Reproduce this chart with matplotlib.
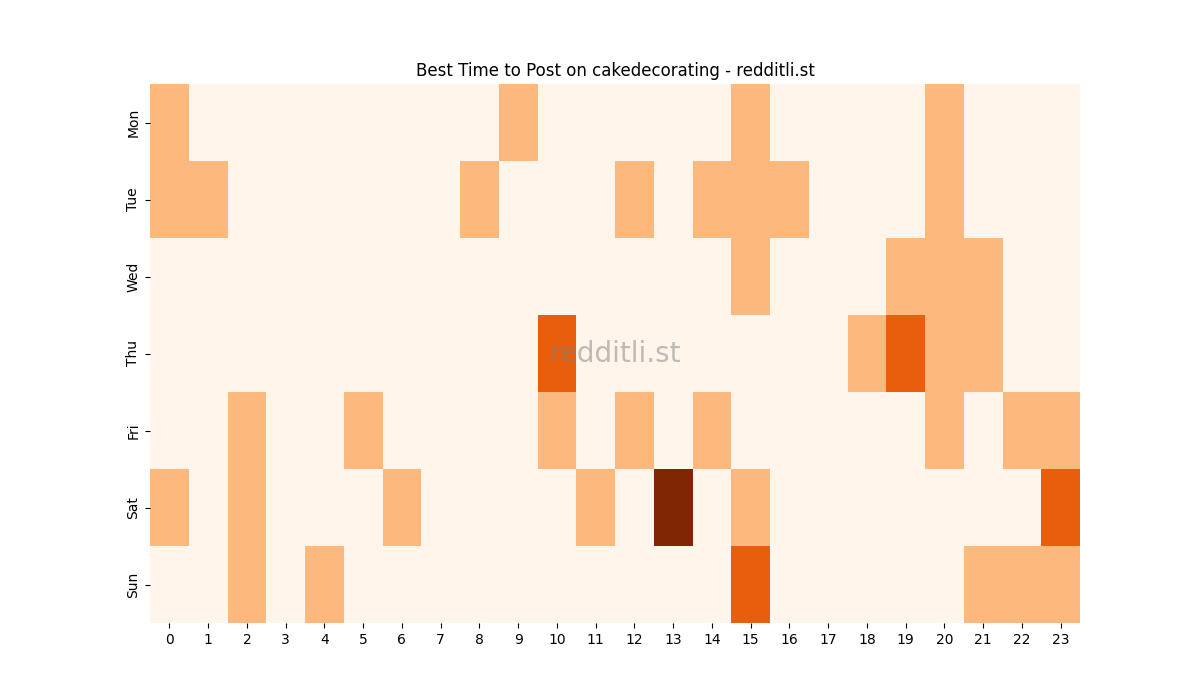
import matplotlib
matplotlib.use("Agg")
import matplotlib.pyplot as plt
import seaborn as sns
import numpy as np

days = ["Mon", "Tue", "Wed", "Thu", "Fri", "Sat", "Sun"]
hours = list(range(24))

# activity level per hour, one row per day (0 = none, 3 = best)
mon = [1, 0, 0, 0, 0, 0, 0, 0, 0, 1, 0, 0, 0, 0, 0, 1, 0, 0, 0, 0, 1, 0, 0, 0]
tue = [1, 1, 0, 0, 0, 0, 0, 0, 1, 0, 0, 0, 1, 0, 1, 1, 1, 0, 0, 0, 1, 0, 0, 0]
wed = [0, 0, 0, 0, 0, 0, 0, 0, 0, 0, 0, 0, 0, 0, 0, 1, 0, 0, 0, 1, 1, 1, 0, 0]
thu = [0, 0, 0, 0, 0, 0, 0, 0, 0, 0, 2, 0, 0, 0, 0, 0, 0, 0, 1, 2, 1, 1, 0, 0]
fri = [0, 0, 1, 0, 0, 1, 0, 0, 0, 0, 1, 0, 1, 0, 1, 0, 0, 0, 0, 0, 1, 0, 1, 1]
sat = [1, 0, 1, 0, 0, 0, 1, 0, 0, 0, 0, 1, 0, 3, 0, 1, 0, 0, 0, 0, 0, 0, 0, 2]
sun = [0, 0, 1, 0, 1, 0, 0, 0, 0, 0, 0, 0, 0, 0, 0, 2, 0, 0, 0, 0, 0, 1, 1, 1]

grid = np.array([mon, tue, wed, thu, fri, sat, sun])

fig, ax = plt.subplots(figsize=(12, 7), dpi=100)
sns.heatmap(grid, cmap="Oranges", cbar=False, ax=ax,
            xticklabels=hours, yticklabels=days)
ax.set_yticklabels(days, rotation=90, va="center")
ax.set_xticklabels(hours, rotation=0)
ax.set_title("Best Time to Post on cakedecorating - redditli.st")

# watermark
ax.text(0.5, 0.5, "redditli.st", transform=ax.transAxes, fontsize=20,
        color="gray", alpha=0.5, ha="center", va="center")

fig.savefig("out.png")
